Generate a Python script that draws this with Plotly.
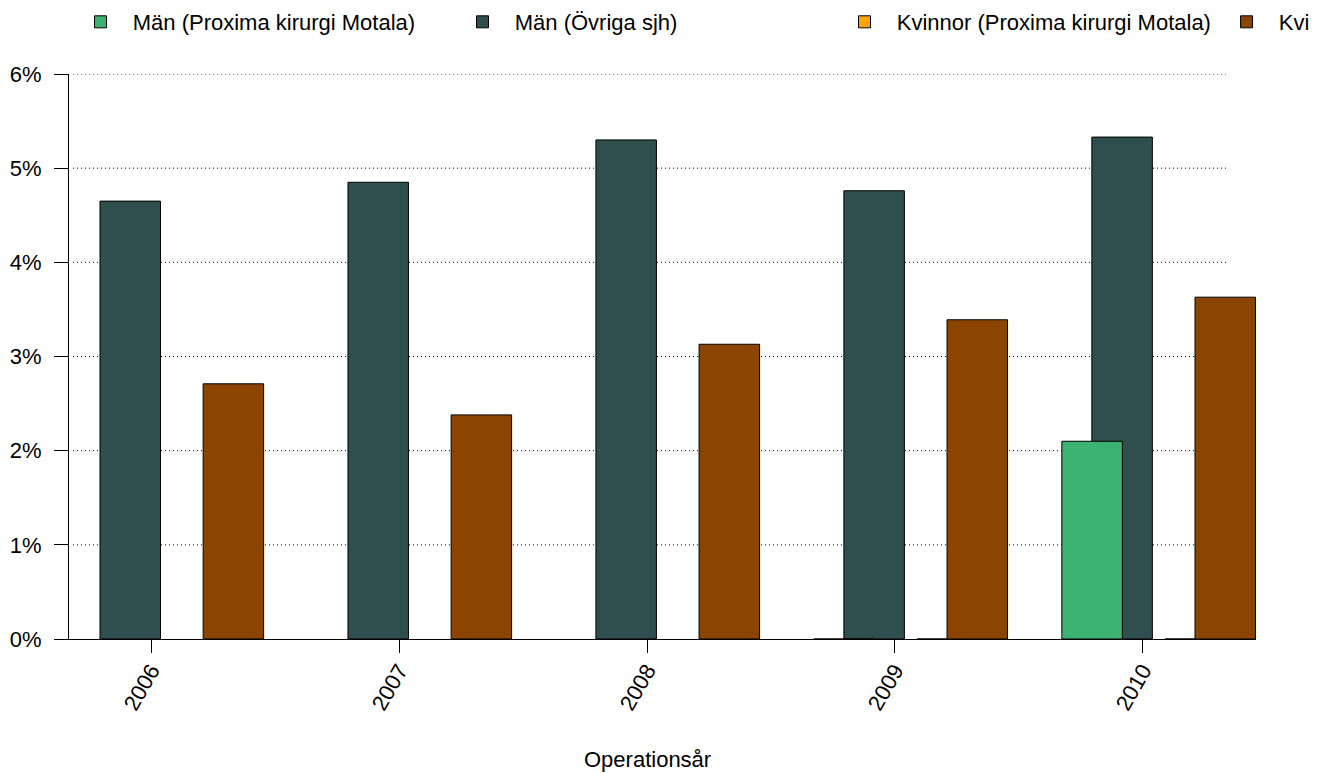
import plotly.graph_objects as go

years = [2006, 2007, 2008, 2009, 2010]
year_labels = ["2006", "2007", "2008", "2009", "2010"]

man_proxima = [None, None, None, 0.0, 2.10]
man_ovriga = [4.65, 4.85, 5.30, 4.76, 5.33]
kvinnor_proxima = [None, None, None, 0.0, 0.0]
kvinnor_ovriga = [2.71, 2.38, 3.13, 3.39, 3.63]

y_ticks = [0, 1, 2, 3, 4, 5, 6]
y_tick_labels = ["0%", "1%", "2%", "3%", "4%", "5%", "6%"]

FONT = "Liberation Sans, Arial, Helvetica, sans-serif"
BAR_W = 0.244
NB = "\u00a0\u00a0"

fig = go.Figure()

def add_bar(name, vals, color, offset, rank, legend="legend"):
    fig.add_trace(go.Bar(
        x=years, y=vals, name=NB + name,
        marker=dict(color=color, line=dict(color="black", width=1)),
        width=BAR_W, offset=offset, legendrank=rank, legend=legend,
        hoverinfo="x+y+name",
    ))

add_bar("Män (Övriga sjh)", man_ovriga, "#2F4F4F", -0.206, 2)
add_bar("Män (Proxima kirurgi Motala)", man_proxima, "#3CB371", -0.327, 1)
add_bar("Kvinnor (Proxima kirurgi Motala)", kvinnor_proxima, "#FFA500", 0.089, 3)
add_bar("Kvinnor (Övriga sjh)", kvinnor_ovriga, "#8B4500", 0.210, 4, legend="legend2")

shapes = []
for v in y_ticks[1:]:
    shapes.append(dict(type="line", xref="paper", yref="y", x0=0.0034, x1=0.9764,
                       y0=v, y1=v, layer="below",
                       line=dict(color="black", width=1, dash="1px,3px")))

legend_common = dict(orientation="h", yanchor="middle", y=1.092, xanchor="left",
                     bgcolor="rgba(0,0,0,0)", borderwidth=0,
                     font=dict(family=FONT, size=22, color="black"),
                     entrywidth=337, entrywidthmode="pixels",
                     traceorder="normal")

fig.update_layout(
    width=1302, height=765,
    margin=dict(l=61, r=54, t=66, b=134, autoexpand=False),
    paper_bgcolor="white", plot_bgcolor="white",
    font=dict(family=FONT, size=22, color="black"),
    barmode="overlay",
    showlegend=True,
    legend=dict(x=0.0097, **legend_common),
    legend2=dict(x=0.9752, **legend_common),
    shapes=shapes,
    xaxis=dict(range=[2005.669, 2010.456], tickmode="array", tickvals=years,
               ticktext=year_labels, tickangle=-60, ticks="outside", ticklen=13,
               tickcolor="black", tickwidth=1, showline=True, linecolor="black",
               linewidth=1, showgrid=False, zeroline=False, ticklabelstandoff=-4,
               tickfont=dict(family=FONT, size=22, color="black")),
    yaxis=dict(range=[0, 6], tickmode="array", tickvals=y_ticks, ticktext=y_tick_labels,
               ticks="outside", ticklen=14, tickcolor="black", tickwidth=1,
               showline=True, linecolor="black", linewidth=1, showgrid=False,
               zeroline=False, ticklabelstandoff=8,
               tickfont=dict(family=FONT, size=22, color="black")),
    annotations=[dict(text="Operationsår", xref="paper", yref="paper", x=0.487, y=-0.214,
                      xanchor="center", yanchor="middle", showarrow=False,
                      font=dict(family=FONT, size=22, color="black"))],
)

fig.write_html("out.html")
